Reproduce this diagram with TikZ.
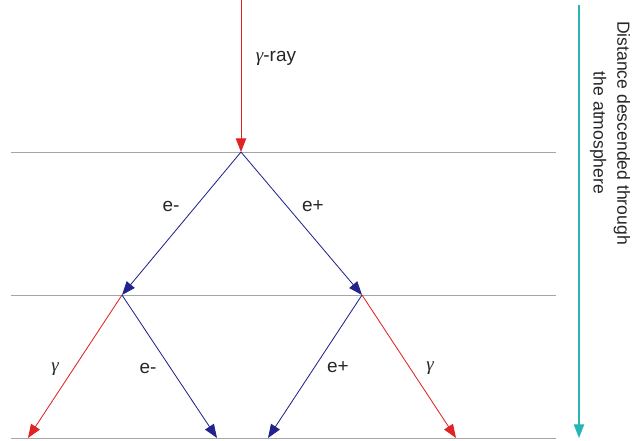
\documentclass[tikz,border=0pt]{standalone}
\usepackage{fontspec}
\setmainfont{Liberation Sans}
\newfontfamily\grkfont{Liberation Serif}
\usetikzlibrary{arrows.meta}
\newcommand{\gam}{{\grkfont\itshape γ}}
\definecolor{rayred}{RGB}{225,35,35}
\definecolor{pairblue}{RGB}{35,35,140}
\definecolor{depthcyan}{RGB}{40,180,180}
\definecolor{layergray}{RGB}{165,165,165}
\tikzset{
  >={Triangle[length=3.4mm,width=2.6mm]},
  layer/.style={layergray,line width=0.6pt},
  photon/.style={->,rayred,line width=0.6pt},
  lepton/.style={->,pairblue,line width=0.6pt},
  depth/.style={->,depthcyan,line width=0.8pt},
  plbl/.style={font=\fontsize{13.5}{15}\selectfont,text=black!85,inner sep=1pt},
}
\begin{document}
\begin{tikzpicture}[x=0.025cm,y=-0.025cm]
  \useasboundingbox (0,0) rectangle (640,441);
  % layers of atmosphere
  \coordinate (l1a) at (11,152);   \coordinate (l1b) at (556,152);
  \coordinate (l2a) at (11,295);   \coordinate (l2b) at (556,295);
  \coordinate (l3a) at (11,438);   \coordinate (l3b) at (556,438);
  \draw[layer] (l1a) -- (l1b);
  \draw[layer] (l2a) -- (l2b);
  \draw[layer] (l3a) -- (l3b);
  % vertices
  \coordinate (top) at (241,0);
  \coordinate (v1) at (241,152);
  \coordinate (v2) at (122,295);
  \coordinate (v3) at (362,295);
  \coordinate (b1) at (28,438);
  \coordinate (b2) at (217,438);
  \coordinate (b3) at (268,438);
  \coordinate (b4) at (456,438);
  \draw[photon] (top) -- (v1);
  \draw[lepton] (v1) -- (v2);
  \draw[lepton] (v1) -- (v3);
  \draw[photon] (v2) -- (b1);
  \draw[lepton] (v2) -- (b2);
  \draw[lepton] (v3) -- (b3);
  \draw[photon] (v3) -- (b4);
  % labels
  \node[plbl] (lray) at (276,58) {\gam-ray};
  \node[plbl] (lem1) at (171,206) {e-};
  \node[plbl] (lep1) at (313,206) {e+};
  \node[plbl] (lg1) at (55,369) {\gam};
  \node[plbl] (lem2) at (148,368) {e-};
  \node[plbl] (lep2) at (338,367) {e+};
  \node[plbl] (lg2) at (430,368) {\gam};
  % depth axis
  \coordinate (d0) at (579,5);
  \coordinate (d1) at (579,438);
  \draw[depth] (d0) -- (d1);
  \node[plbl,rotate=-90,align=center,font=\fontsize{12.5}{17}\selectfont] (dlbl) at (610,133)
    {Distance descended through\\the atmosphere};
\end{tikzpicture}
\end{document}
